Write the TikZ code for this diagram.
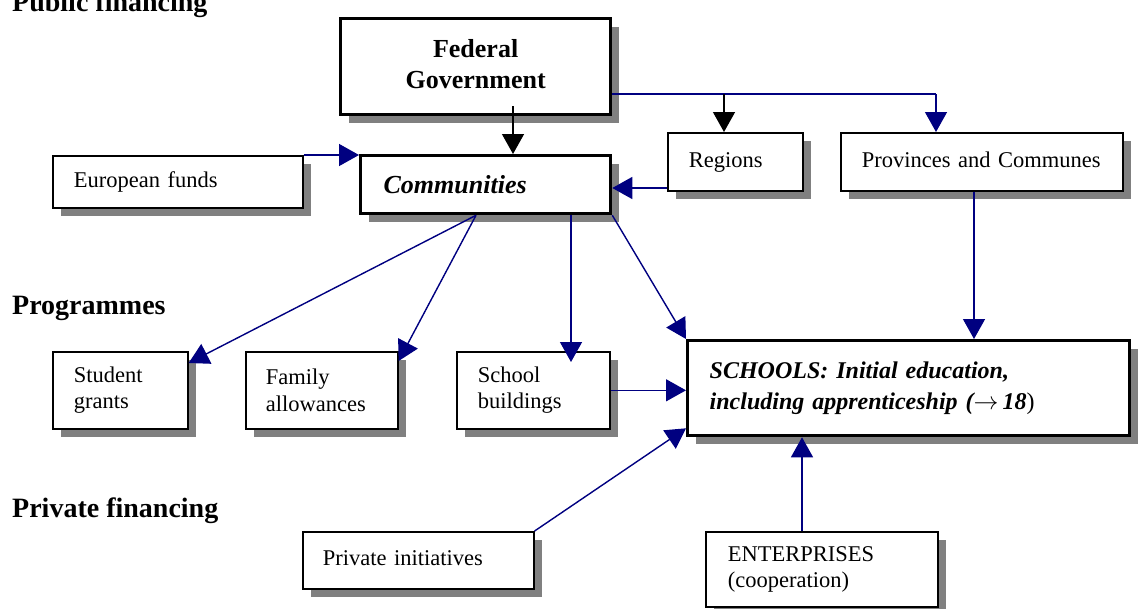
\documentclass[tikz,border=0pt]{standalone}
\usepackage{fontspec}
\setmainfont{Liberation Serif}
\usetikzlibrary{arrows.meta,shadows}
\definecolor{navy}{RGB}{0,0,128}
\definecolor{shgray}{RGB}{128,128,128}
\newcommand\bodyf{\fontsize{22.5}{26.5}\selectfont}
\newcommand\headf{\fontsize{28}{32}\selectfont\bfseries}
\newcommand\fedf{\fontsize{26}{31}\selectfont\bfseries}
\newcommand\schf{\fontsize{24}{31}\selectfont\bfseries\itshape}
\begin{document}
\begin{tikzpicture}[x=1pt,y=-1pt,
  box/.style={draw, line width=1.6pt, fill=white,
    drop shadow={shadow xshift=8pt, shadow yshift=-8pt, fill=shgray, opacity=1},
    inner xsep=21pt, inner ysep=0pt, align=left, anchor=north west, font=\bodyf},
  thickbox/.style={box, line width=3.3pt},
  con/.style={line width=1.4pt, -{Triangle[length=20pt,width=22pt]}},
  nv/.style={con, draw=navy, fill=navy},
  blk/.style={con, draw=black, fill=black},
  head/.style={anchor=base west, inner sep=0pt, font=\headf}]
\useasboundingbox (0,0) rectangle (1147,608);

% headings
\node[head] (hpub) at (12,11) {Public financing};
\node[head] (hprog) at (12,314) {Programmes};
\node[head] (hpriv) at (12,517) {Private financing};

% boxes
\node[thickbox, align=center, inner xsep=10pt, text width=250pt, minimum height=96pt, font=\fedf] (fed) at (339,17) {\raisebox{5pt}{Federal}\\\raisebox{5pt}{Government}};
\node[box, text width=208pt, minimum height=52pt] (eu) at (52,155) {\strut European funds};
\node[thickbox, inner xsep=23pt, text width=204pt, minimum height=58pt, font=\fedf\itshape] (comm) at (359,154) {Communities};
\node[box, text width=93pt, minimum height=58pt] (reg) at (667,132) {\strut Regions};
\node[box, text width=240pt, minimum height=58pt] (prov) at (840,132) {\strut Provinces and Communes};
\node[box, text width=93pt, minimum height=77pt] (stud) at (52,351) {Student\\grants};
\node[box, inner xsep=20pt, text width=112pt, minimum height=77pt] (fam) at (245,351) {Family\\allowances};
\node[box, text width=111pt, minimum height=77pt] (sbld) at (456,351) {School\\buildings};
\node[thickbox, inner xsep=22pt, text width=398pt, minimum height=95pt, font=\schf] (sch) at (686,339) {\raisebox{4pt}{SCHOOLS: Initial education,}\\\raisebox{4pt}{including apprenticeship ($\rightarrow$\,18{\mdseries\upshape )}}};
\node[box, inner xsep=20pt, text width=191pt, minimum height=57pt] (priv) at (302,531) {\strut Private initiatives};
\node[box, inner xsep=22pt, text width=188pt, minimum height=75pt] (ent) at (705,531) {\raisebox{-7pt}{ENTERPRISES}\\\raisebox{-7pt}{(cooperation)}};

% guide coordinates
\coordinate (x513) at (513,0);
\coordinate (x724) at (724,0);
\coordinate (x936) at (936,0);
\coordinate (x974) at (974,0);
\coordinate (x476) at (476,0);
\coordinate (x571) at (571,0);
\coordinate (x802) at (802,0);
\coordinate (y94) at (0,94);
\coordinate (y188) at (0,188);

% connectors
\draw[blk, shorten <=-10pt] (fed.south -| x513) -- (comm.north -| x513);
\draw[line width=1.4pt, draw=navy] (fed.east |- y94) -- (y94 -| x936);
\draw[nv] (y94 -| x936) -- (prov.north -| x936);
\draw[blk] (y94 -| x724) -- (reg.north -| x724);
\draw[nv] (eu.north east) -- (comm.west |- eu.north east);
\draw[nv] (reg.west |- y188) -- (comm.east |- y188);
\draw[nv] (comm.south -| x476) -- ([yshift=-12pt]stud.north east);
\draw[nv] (comm.south -| x476) -- ([yshift=-10pt]fam.north east);
\draw[nv, shorten >=-11pt] (comm.south -| x571) -- (sbld.north -| x571);
\draw[nv] (comm.south east) -- (sch.north west);
\draw[nv] (prov.south -| x974) -- (sch.north -| x974);
\draw[nv] (sbld.east) -- (sch.west |- sbld.east);
\draw[nv] (priv.north east) -- ([yshift=9pt]sch.south west);
\draw[nv] (ent.north -| x802) -- (sch.south -| x802);
\end{tikzpicture}
\end{document}
